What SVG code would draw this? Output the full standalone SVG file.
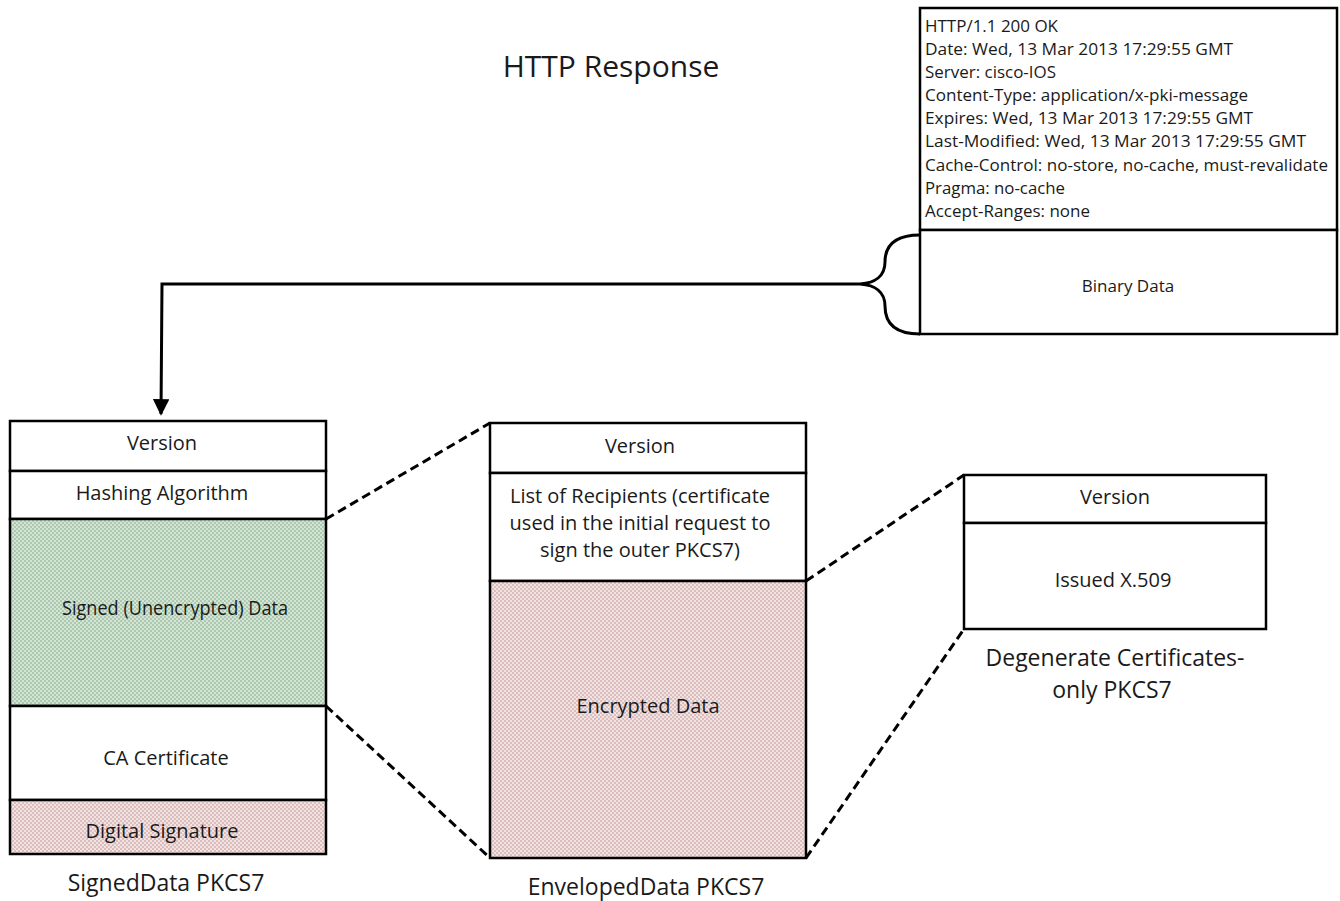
<svg xmlns="http://www.w3.org/2000/svg" width="1340" height="901" viewBox="0 0 1340 901">
  <defs>
    <pattern id="hatchGreen" width="4" height="4" patternUnits="userSpaceOnUse">
      <rect width="4" height="4" fill="#d4e5d4"/>
      <rect width="2" height="2" fill="#adc8b0"/>
      <rect x="2" y="2" width="2" height="2" fill="#adc8b0"/>
    </pattern>
    <pattern id="hatchRed" width="4" height="4" patternUnits="userSpaceOnUse">
      <rect width="4" height="4" fill="#f2e3e3"/>
      <rect width="2" height="2" fill="#dbbdbd"/>
      <rect x="2" y="2" width="2" height="2" fill="#dbbdbd"/>
    </pattern>
    <marker id="arrow" viewBox="0 0 10 10" refX="9" refY="5" markerWidth="5.5" markerHeight="5.5" orient="auto-start-reverse" markerUnits="strokeWidth">
      <path d="M0,0 L10,5 L0,10 z" fill="#000"/>
    </marker>
  </defs>
  <style>
    text { font-family: "Open Sans", "Noto Sans", "Liberation Sans", sans-serif; fill: #1a1a1a; }
    .cell { fill: #fff; stroke: #000; stroke-width: 2.5; }
    .lbl { font-size: 20px; text-anchor: middle; }
    .cap { font-size: 23px; text-anchor: middle; }
    .hdr { font-size: 16px; }
    .dash { fill: none; stroke: #000; stroke-width: 3; stroke-dasharray: 9 5; }
    .wire { fill: none; stroke: #000; stroke-width: 3; }
  </style>
  <rect width="1340" height="901" fill="#fff"/>

  <text x="611" y="77" font-size="30" text-anchor="middle">HTTP Response</text>

  <!-- HTTP response message -->
  <g id="http-response">
    <rect class="cell" x="920" y="8" width="417" height="222"/>
    <rect class="cell" x="920" y="230" width="417" height="104"/>
    <g class="hdr">
      <text x="925" y="32" textLength="133" lengthAdjust="spacingAndGlyphs">HTTP/1.1 200 OK</text>
      <text x="925" y="55" textLength="308" lengthAdjust="spacingAndGlyphs">Date: Wed, 13 Mar 2013 17:29:55 GMT</text>
      <text x="925" y="78" textLength="131" lengthAdjust="spacingAndGlyphs">Server: cisco-IOS</text>
      <text x="925" y="101" textLength="323" lengthAdjust="spacingAndGlyphs">Content-Type: application/x-pki-message</text>
      <text x="925" y="124" textLength="328" lengthAdjust="spacingAndGlyphs">Expires: Wed, 13 Mar 2013 17:29:55 GMT</text>
      <text x="925" y="147" textLength="381" lengthAdjust="spacingAndGlyphs">Last-Modified: Wed, 13 Mar 2013 17:29:55 GMT</text>
      <text x="925" y="171" textLength="403" lengthAdjust="spacingAndGlyphs">Cache-Control: no-store, no-cache, must-revalidate</text>
      <text x="925" y="194" textLength="140" lengthAdjust="spacingAndGlyphs">Pragma: no-cache</text>
      <text x="925" y="217" textLength="165" lengthAdjust="spacingAndGlyphs">Accept-Ranges: none</text>
    </g>
    <text x="1128" y="292" font-size="17" text-anchor="middle">Binary Data</text>
  </g>

  <!-- SignedData PKCS7 -->
  <g id="signed-data">
    <rect class="cell" x="10" y="421" width="316" height="50"/>
    <rect class="cell" x="10" y="471" width="316" height="48"/>
    <rect class="cell" x="10" y="519" width="316" height="187" style="fill:url(#hatchGreen)"/>
    <rect class="cell" x="10" y="706" width="316" height="94"/>
    <rect class="cell" x="10" y="800" width="316" height="54" style="fill:url(#hatchRed)"/>
    <text class="lbl" x="162" y="450">Version</text>
    <text class="lbl" x="162" y="500">Hashing Algorithm</text>
    <text class="lbl" x="175" y="615" textLength="226" lengthAdjust="spacingAndGlyphs">Signed (Unencrypted) Data</text>
    <text class="lbl" x="166" y="765">CA Certificate</text>
    <text class="lbl" x="162" y="838">Digital Signature</text>
    <text class="cap" x="166" y="891">SignedData PKCS7</text>
  </g>

  <!-- EnvelopedData PKCS7 -->
  <g id="enveloped-data">
    <rect class="cell" x="490" y="423" width="316" height="50"/>
    <rect class="cell" x="490" y="473" width="316" height="108"/>
    <rect class="cell" x="490" y="581" width="316" height="277" style="fill:url(#hatchRed)"/>
    <text class="lbl" x="640" y="453">Version</text>
    <text class="lbl" x="640" y="503">List of Recipients (certificate</text>
    <text class="lbl" x="640" y="530">used in the initial request to</text>
    <text class="lbl" x="640" y="557">sign the outer PKCS7)</text>
    <text class="lbl" x="648" y="713">Encrypted Data</text>
    <text class="cap" x="646" y="895">EnvelopedData PKCS7</text>
  </g>

  <!-- Degenerate Certificates-only PKCS7 -->
  <g id="degenerate-certs">
    <rect class="cell" x="964" y="475" width="302" height="48"/>
    <rect class="cell" x="964" y="523" width="302" height="106"/>
    <text class="lbl" x="1115" y="504">Version</text>
    <text class="lbl" x="1113" y="587">Issued X.509</text>
    <text class="cap" x="1115" y="666">Degenerate Certificates-</text>
    <text class="cap" x="1112" y="698">only PKCS7</text>
  </g>

  <!-- connectors -->
  <g id="connectors">
    <path class="wire" d="M920,235 C890,235 885,250 885,262 C885,276 875,283 860,284 C875,285 885,292 885,306 C885,318 890,334 920,334"/>
    <path class="wire" d="M860,284 L162,284 L161,414" marker-end="url(#arrow)"/>
    <path class="dash" d="M326,519 L490,423"/>
    <path class="dash" d="M326,706 L490,858"/>
    <path class="dash" d="M806,581 L964,475"/>
    <path class="dash" d="M806,858 L964,629"/>
  </g>
</svg>
